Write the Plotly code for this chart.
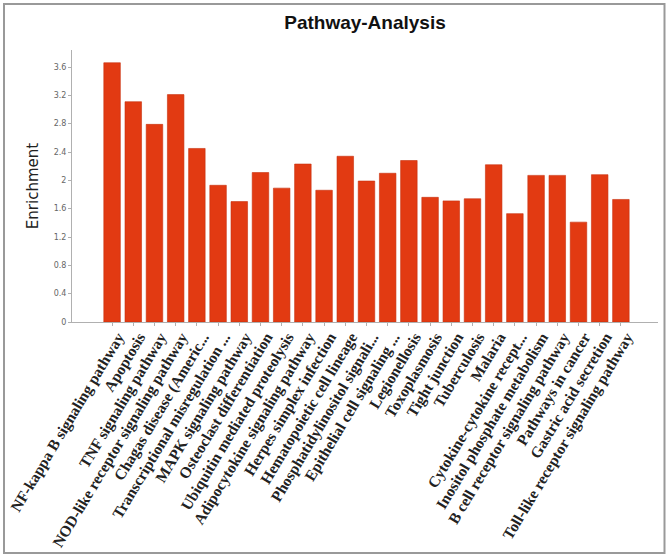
import plotly.graph_objects as go

pathways = [
    "NF-kappa B signaling pathway",
    "Apoptosis",
    "TNF signaling pathway",
    "NOD-like receptor signaling pathway",
    "Chagas disease (Americ...",
    "Transcriptional misregulation ...",
    "MAPK signaling pathway",
    "Osteoclast differentiation",
    "Ubiquitin mediated proteolysis",
    "Adipocytokine signaling pathway",
    "Herpes simplex infection",
    "Hematopoietic cell lineage",
    "Phosphatidylinositol signali...",
    "Epithelial cell signaling ...",
    "Legionellosis",
    "Toxoplasmosis",
    "Tight junction",
    "Tuberculosis",
    "Malaria",
    "Cytokine-cytokine recept...",
    "Inositol phosphate metabolism",
    "B cell receptor signaling pathway",
    "Pathways in cancer",
    "Gastric acid secretion",
    "Toll-like receptor signaling pathway",
]
enrichment = [3.66, 3.11, 2.79, 3.21, 2.45, 1.93, 1.70, 2.11, 1.89, 2.23,
              1.86, 2.34, 1.99, 2.10, 2.28, 1.76, 1.71, 1.74, 2.22, 1.53,
              2.07, 2.07, 1.41, 2.08, 1.73]
y_ticks = [0, 0.4, 0.8, 1.2, 1.6, 2, 2.4, 2.8, 3.2, 3.6]

fig = go.Figure(go.Bar(
    x=list(range(len(pathways))),
    y=enrichment,
    marker=dict(color="#E23A12", line=dict(color="#C8300E", width=0.6)),
    width=0.78,
))

L, R, T, B = 72, 12, 50, 238
W, H = 670, 560
pw, ph = W - L - R, H - T - B

fig.update_layout(
    width=W, height=H,
    margin=dict(l=L, r=R, t=T, b=B, autoexpand=False),
    paper_bgcolor="white", plot_bgcolor="white",
    showlegend=False,
    title=dict(text="<b>Pathway-Analysis</b>", x=0.5, xref="paper", xanchor="center",
               y=1 - 22 / H, yanchor="middle", automargin=False,
               font=dict(family="Liberation Sans", size=19, color="#111")),
    xaxis=dict(
        tickmode="array", tickvals=list(range(len(pathways))),
        ticktext=[f"<b>{p}</b>" for p in pathways],
        tickangle=-59, automargin=False,
        ticklabelstandoff=-4, ticklabelshift=6,
        tickfont=dict(family="Liberation Serif", size=15.5, color="#222"),
        range=[-1.89, 25.75],
        showline=True, linecolor="#b0b0b0", linewidth=1,
        ticks="outside", ticklen=3, tickcolor="#b0b0b0",
        showgrid=False, zeroline=False,
    ),
    yaxis=dict(
        title=dict(text="Enrichment", standoff=11,
                   font=dict(family="DejaVu Sans", size=15, color="#222")),
        tickvals=y_ticks, automargin=False,
        tickfont=dict(family="DejaVu Sans", size=8, color="#666"),
        range=[0, 3.84],
        showline=True, linecolor="#b0b0b0", linewidth=1,
        ticks="outside", ticklen=3, tickcolor="#b0b0b0",
        showgrid=False, zeroline=False,
    ),
    shapes=[dict(type="rect", xref="paper", yref="paper",
                 x0=(4 - L) / pw, x1=(664.5 - L) / pw,
                 y0=(T + ph - 553) / ph, y1=(T + ph - 4) / ph,
                 line=dict(color="#999999", width=2), fillcolor="rgba(0,0,0,0)",
                 layer="below")],
)

fig.write_html("out.html", config={"displayModeBar": False},
               post_script="document.body.style.margin='0';")
